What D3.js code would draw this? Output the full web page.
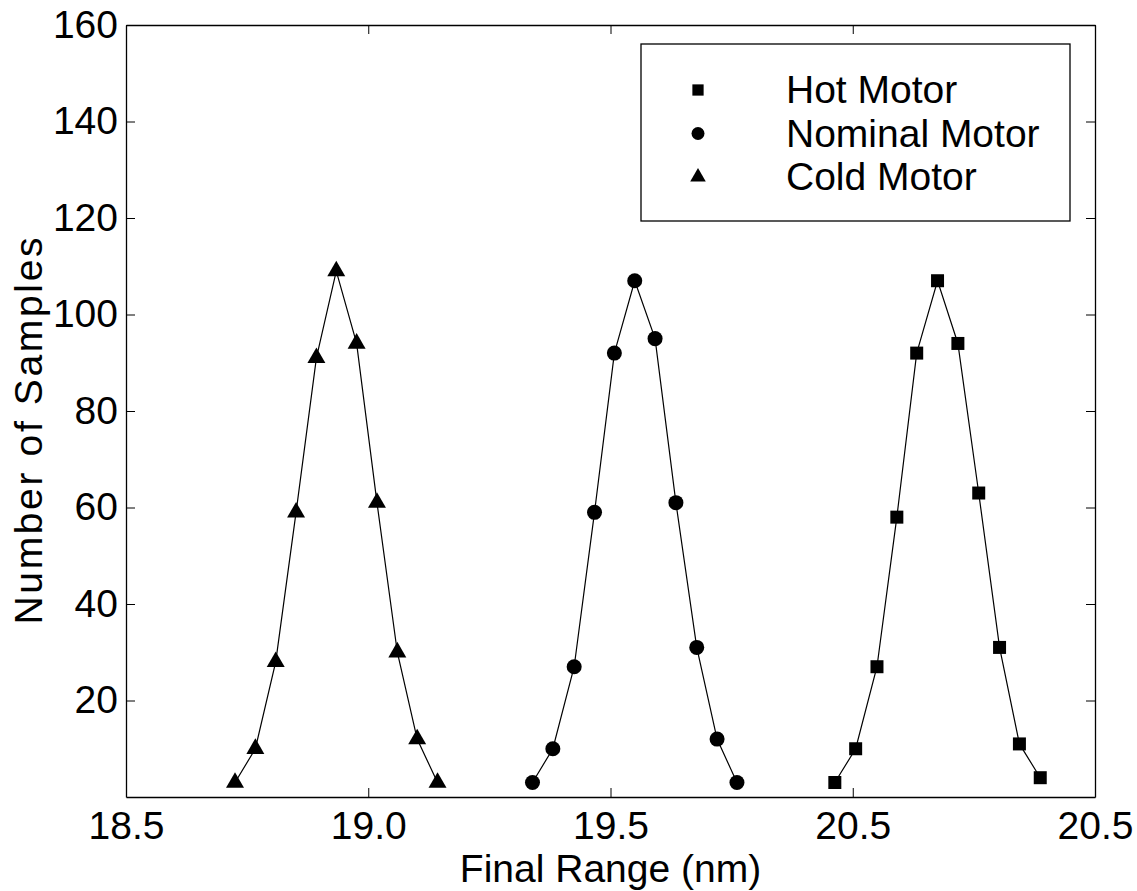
<!DOCTYPE html>
<html>
<head>
<meta charset="utf-8">
<script src="https://cdn.jsdelivr.net/npm/d3@7"></script>
<style>
  html, body { margin: 0; padding: 0; background: #fff; }
  svg { display: block; }
  text { font-family: "Liberation Sans", Arial, Helvetica, sans-serif; fill: #000; }
</style>
</head>
<body>
<svg id="chart" width="1137" height="891"></svg>
<script>
// ---- data ----
const seriesNames = ["Hot Motor", "Nominal Motor", "Cold Motor"];
const xHot = [19.963, 20.006, 20.050, 20.091, 20.132, 20.175, 20.217, 20.260, 20.303, 20.344, 20.387];
const hot = [3, 10, 27, 58, 92, 107, 94, 63, 31, 11, 4];
const xNominal = [19.339, 19.381, 19.425, 19.467, 19.508, 19.550, 19.592, 19.635, 19.678, 19.720, 19.761];
const nominal = [3, 10, 27, 59, 92, 107, 95, 61, 31, 12, 3];
const xCold = [18.725, 18.767, 18.809, 18.851, 18.893, 18.934, 18.976, 19.018, 19.060, 19.101, 19.143];
const cold = [3, 10, 28, 59, 91, 109, 94, 61, 30, 12, 3];
const xTickValues = [18.5, 19.0, 19.5, 20.0, 20.5];
const xTickLabels = ["18.5", "19.0", "19.5", "20.5", "20.5"];
const yTickValues = [20, 40, 60, 80, 100, 120, 140, 160];
const xLabel = "Final Range (nm)";
const yLabel = "Number of Samples";

// ---- layout ----
const svg = d3.select("#chart");
const L = 126, R = 1095, T = 25, B = 797;
const FS = 39;
const x = d3.scaleLinear().domain([18.5, 20.5]).range([L, R]);
const y = d3.scaleLinear().domain([0, 160]).range([B, T]);

const tick = 9;
const fmtX = (d) => xTickLabels[xTickValues.indexOf(d)];

function styleAxis(g) {
  g.selectAll("path.domain").attr("stroke", "#000").attr("stroke-width", 1.3);
  g.selectAll(".tick line").attr("stroke", "#000").attr("stroke-width", 1);
  g.selectAll(".tick text").style("font-size", FS + "px").style("font-family", '"Liberation Sans", Arial, sans-serif').attr("fill", "#000");
}

svg.append("g").attr("transform", `translate(0,${B})`)
  .call(d3.axisBottom(x).tickValues(xTickValues).tickFormat(fmtX).tickSizeInner(-tick).tickSizeOuter(0).tickPadding(14))
  .call(styleAxis);
svg.append("g").attr("transform", `translate(0,${T})`)
  .call(d3.axisTop(x).tickValues(xTickValues).tickFormat("").tickSizeInner(-tick).tickSizeOuter(0))
  .call(styleAxis);
svg.append("g").attr("transform", `translate(${L},0)`)
  .call(d3.axisLeft(y).tickValues(yTickValues).tickSizeInner(-tick).tickSizeOuter(0).tickPadding(8))
  .call(styleAxis);
svg.append("g").attr("transform", `translate(${R},0)`)
  .call(d3.axisRight(y).tickValues(yTickValues).tickFormat("").tickSizeInner(-tick).tickSizeOuter(0))
  .call(styleAxis);

// axis labels
svg.append("text").attr("x", (L + R) / 2).attr("y", 882).attr("text-anchor", "middle")
  .style("font-size", FS + "px").text(xLabel);
svg.append("text").attr("transform", `translate(42,${(T + B) / 2 + 20}) rotate(-90)`)
  .attr("text-anchor", "middle").attr("textLength", 387).attr("lengthAdjust", "spacing")
  .style("font-size", FS + "px").text(yLabel);

// ---- series ----
const series = [
  { name: seriesNames[0], xs: xHot, ys: hot, sym: d3.symbolSquare, size: 169 },
  { name: seriesNames[1], xs: xNominal, ys: nominal, sym: d3.symbolCircle, size: 177 },
  { name: seriesNames[2], xs: xCold, ys: cold, sym: d3.symbolTriangle, size: 140 }
];
const line = d3.line().x(d => x(d[0])).y(d => y(d[1]));

series.forEach(s => {
  const pts = s.xs.map((v, i) => [v, s.ys[i]]);
  svg.append("path").datum(pts).attr("d", line)
    .attr("fill", "none").attr("stroke", "#000").attr("stroke-width", 1.2);
  svg.append("g").selectAll("path").data(pts).join("path")
    .attr("transform", d => `translate(${x(d[0])},${y(d[1])})`)
    .attr("d", d3.symbol().type(s.sym).size(s.size)())
    .attr("fill", "#000");
});

// ---- legend ----
const lg = svg.append("g");
lg.append("rect").attr("x", 641).attr("y", 44).attr("width", 429).attr("height", 177)
  .attr("fill", "#fff").attr("stroke", "#000").attr("stroke-width", 1.3);
series.forEach((s, i) => {
  const cy = 90 + i * 43.5;
  lg.append("path").attr("transform", `translate(698,${cy})`)
    .attr("d", d3.symbol().type(s.sym).size(s.size * 0.75)()).attr("fill", "#000");
  lg.append("text").attr("x", 786).attr("y", cy + 13).style("font-size", FS + "px").text(s.name);
});
</script>
</body>
</html>
